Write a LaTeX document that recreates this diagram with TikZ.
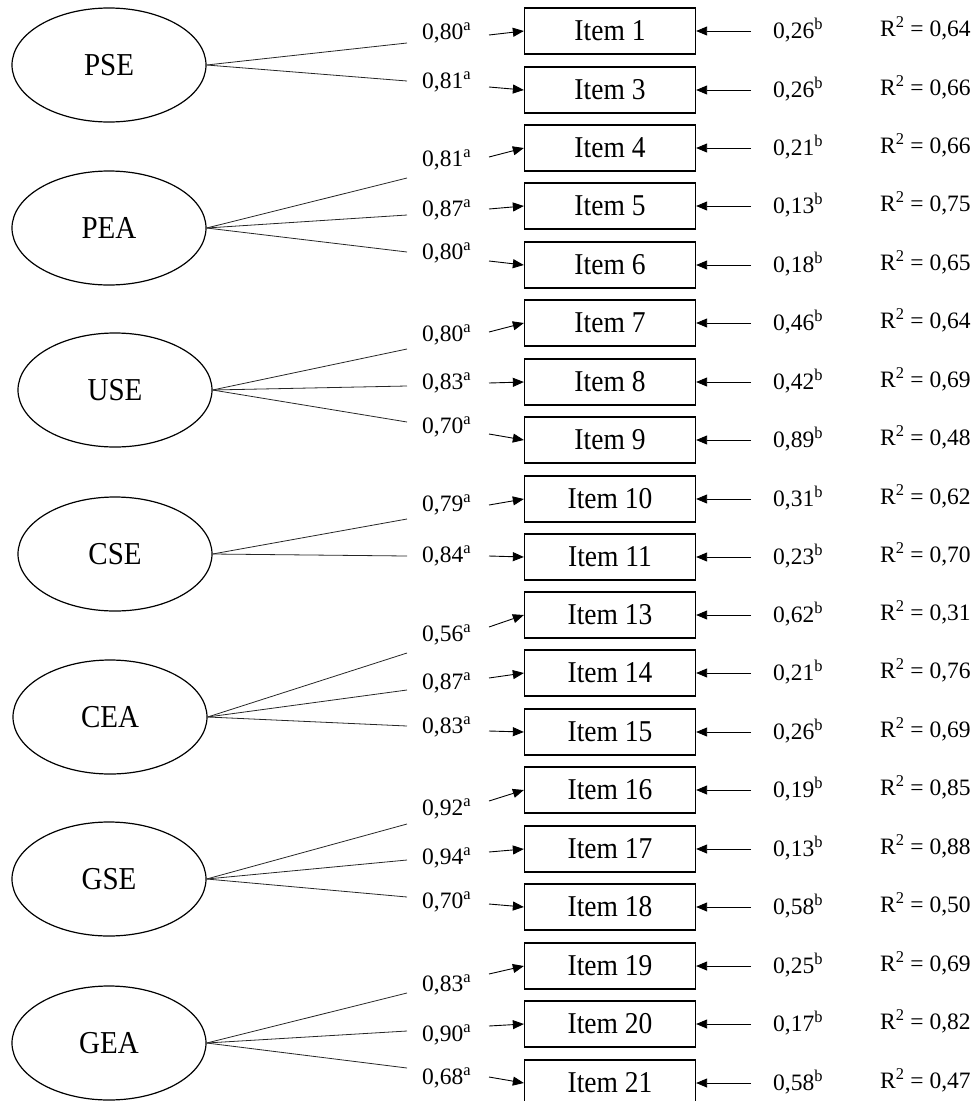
\documentclass[tikz,border=0pt]{standalone}
\usepackage{fontspec}
\setmainfont{Liberation Serif}
\usetikzlibrary{shapes.geometric,arrows.meta}
\newcommand{\tallish}[1]{\scalebox{1}[1.1]{#1}}
\tikzset{
  latent/.style={ellipse, draw, line width=1.2pt, minimum width=194pt, minimum height=114pt, inner sep=0pt, font=\fontsize{29}{31}\selectfont},
  itembox/.style={rectangle, draw, line width=1.3pt, minimum width=171pt, minimum height=46pt, inner sep=0pt, font=\fontsize{27.5}{30}\selectfont},
  lbl/.style={anchor=west, inner sep=0pt, font=\fontsize{23.5}{26}\selectfont},
  loadline/.style={line width=0.8pt, draw=black!85},
  arr/.style={line width=0.9pt, -{Triangle[length=11pt,width=9pt]}}
}
\begin{document}
\begin{tikzpicture}[x=1pt,y=-1pt]
\useasboundingbox (0,0) rectangle (976,1101);
% latent variables
\node[latent] (PSE) at (109,65) {\tallish{PSE}};
\node[latent] (PEA) at (109,228) {\tallish{PEA}};
\node[latent] (USE) at (115,390) {\tallish{USE}};
\node[latent] (CSE) at (115,554) {\tallish{CSE}};
\node[latent] (CEA) at (110,717) {\tallish{CEA}};
\node[latent] (GSE) at (109,879) {\tallish{GSE}};
\node[latent] (GEA) at (109,1043) {\tallish{GEA}};
% items
\foreach \n/\e/\by/\ly/\ty/\ay/\ld/\er/\rr in {
  1/PSE/31/43/33/35/80/26/64,
  3/PSE/90/81/82/87/81/26/66,
  4/PEA/148/178/160/157/81/21/66,
  5/PEA/206/215/210/209/87/13/75,
  6/PEA/265/252/253/261/80/18/65,
  7/USE/323/349/335/332/80/46/64,
  8/USE/382/386/383/383/83/42/69,
  9/USE/440/422/427/434/70/89/48,
  10/CSE/499/519/505/505/79/31/62,
  11/CSE/557/556/556/556/84/23/70,
  13/CEA/615/653/635/627/56/62/31,
  14/CEA/673/690/683/678/87/21/76,
  15/CEA/732/726/727/731/83/26/69,
  16/GSE/790/824/809/801/92/19/85,
  17/GSE/849/860/858/852/94/13/88,
  18/GSE/907/897/902/904/70/58/50,
  19/GEA/966/993/985/974/83/25/69,
  20/GEA/1024/1031/1035/1026/90/17/82,
  21/GEA/1083/1068/1078/1077/68/58/47}{
  \node[itembox] (i\n) at (610,\by) {\tallish{Item \n}};
  \coordinate (le\n) at (407,\ly);
  \node[lbl] (ld\n) at (422,\ty) {0,\ld\textsuperscript{a}};
  \coordinate (as\n) at (489,\ay);
  \coordinate (rs\n) at (751,\by);
  \node[lbl] (er\n) at (773,\by-1) {0,\er\textsuperscript{b}};
  \node[lbl] (r\n) at (880,\by-3) {R\textsuperscript{2} = 0,\rr};
  \draw[loadline] (\e.east) -- (le\n);
  \draw[arr] (as\n) -- (i\n.west);
  \draw[arr] (rs\n) -- (i\n.east);
}
\end{tikzpicture}
\end{document}
